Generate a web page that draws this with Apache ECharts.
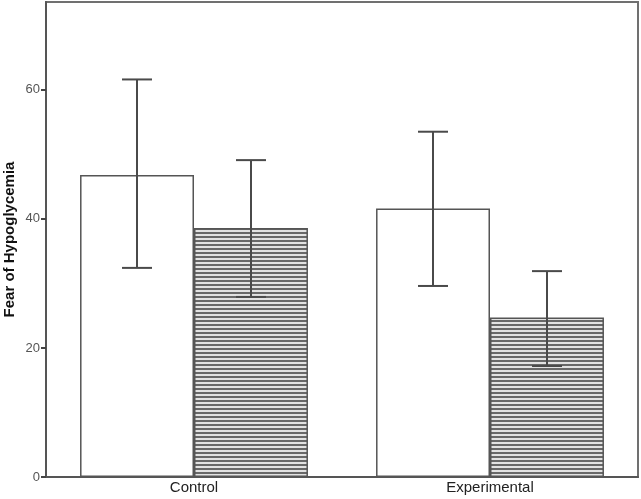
<!DOCTYPE html>
<html>
<head>
<meta charset="utf-8">
<script src="https://cdn.jsdelivr.net/npm/echarts@6/dist/echarts.min.js"></script>
<style>html,body{margin:0;padding:0;background:#fff}#c{width:641px;height:499px}</style>
</head>
<body>
<div id="c"></div>
<script>
var categories = ['Control', 'Experimental'];
var yTicks = [0, 20, 40, 60];
var whiteMeans = [46.8, 41.6];
var whiteUpper = [61.6, 53.5];
var whiteLower = [32.4, 29.6];
var hatchMeans = [38.6, 24.7];
var hatchUpper = [49.1, 31.9];
var hatchLower = [27.9, 17.2];

var BAR_FRAC = 0.385;
var pc = document.createElement('canvas');
pc.width = 4; pc.height = 4;
var g = pc.getContext('2d');
g.fillStyle = '#e2e2e2'; g.fillRect(0, 0, 4, 4);
g.fillStyle = '#686868'; g.fillRect(0, 0, 4, 2);

function errData(up, lo) {
  return categories.map(function (c, i) { return [i, lo[i], up[i]]; });
}
function errRender(sign) {
  return function (params, api) {
    var i = api.value(0);
    var band = api.size([1, 0])[0];
    var off = sign * band * BAR_FRAC / 2;
    var lo = api.coord([i, api.value(1)]);
    var hi = api.coord([i, api.value(2)]);
    var x = lo[0] + off;
    var cap = 15;
    var st = { stroke: '#4a4a4a', lineWidth: 2 };
    return { type: 'group', children: [
      { type: 'line', shape: { x1: x, y1: hi[1], x2: x, y2: lo[1] }, style: st },
      { type: 'line', shape: { x1: x - cap, y1: hi[1], x2: x + cap, y2: hi[1] }, style: st },
      { type: 'line', shape: { x1: x - cap, y1: lo[1], x2: x + cap, y2: lo[1] }, style: st }
    ]};
  };
}

var chart = echarts.init(document.getElementById('c'), null, { renderer: 'canvas' });
chart.setOption({
  animation: false,
  textStyle: { fontFamily: 'Liberation Sans, Arial, sans-serif' },
  grid: { left: 46, right: 3, top: 2, bottom: 22, containLabel: false, outerBoundsMode: 'none',
    show: true, borderColor: '#707070', borderWidth: 2, backgroundColor: 'transparent' },
  xAxis: {
    type: 'category', data: categories,
    axisLine: { lineStyle: { color: '#555', width: 2 } },
    axisTick: { show: false },
    axisLabel: { color: '#222', fontSize: 15, margin: 3 }
  },
  yAxis: {
    type: 'value', min: 0, max: 73.6, interval: 20,
    name: 'Fear of Hypoglycemia', nameLocation: 'middle', nameGap: 29, nameMoveOverlap: false,
    nameTextStyle: { color: '#111', fontSize: 15, fontWeight: 'bold' },
    axisLine: { show: true, lineStyle: { color: '#555', width: 2 } },
    axisTick: { show: true, length: 5, customValues: yTicks, lineStyle: { color: '#444', width: 2 } },
    axisLabel: { color: '#555', fontSize: 13, margin: 6, customValues: yTicks },
    splitLine: { show: false }
  },
  series: [
    { type: 'bar', name: 'white', data: whiteMeans, barWidth: (BAR_FRAC * 100) + '%', barGap: '0%',
      itemStyle: { color: '#ffffff', borderColor: '#555', borderWidth: 1.5 } },
    { type: 'bar', name: 'hatched', data: hatchMeans, barWidth: (BAR_FRAC * 100) + '%', barGap: '0%',
      itemStyle: { color: { image: pc, repeat: 'repeat' }, borderColor: '#555', borderWidth: 1.5 } },
    { type: 'custom', renderItem: errRender(-1), data: errData(whiteUpper, whiteLower), z: 5 },
    { type: 'custom', renderItem: errRender(1), data: errData(hatchUpper, hatchLower), z: 5 }
  ]
});
</script>
</body>
</html>
